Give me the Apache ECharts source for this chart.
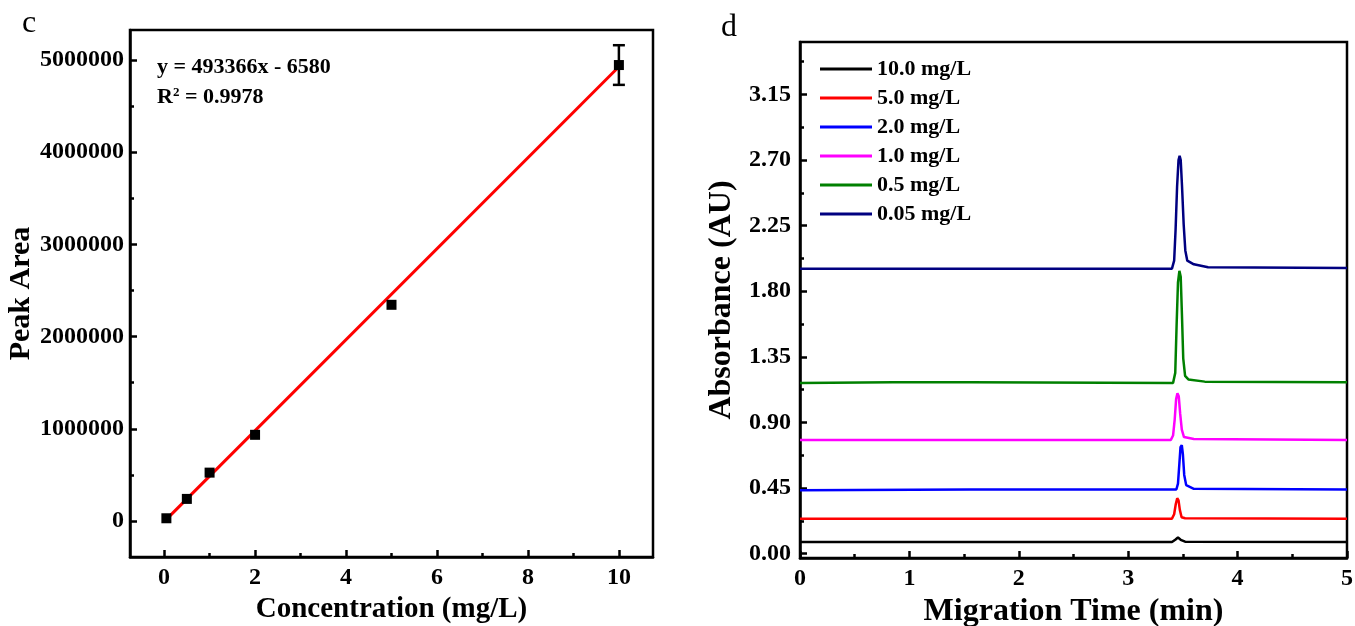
<!DOCTYPE html>
<html>
<head>
<meta charset="utf-8">
<script src="https://cdn.jsdelivr.net/npm/echarts@6/dist/echarts.min.js"></script>
<style>
html,body{margin:0;padding:0;background:#fff}
#main{width:1355px;height:626px}
</style>
</head>
<body>
<div id="main"></div>
<script>
// panel c : calibration
var concX = [0.05, 0.5, 1, 2, 5, 10];
var peakArea = [30000, 240000, 525000, 935000, 2345000, 4945000];
var areaErr = [[10, 4730000, 5160000]];
var fitLine = [[0.05, 18088], [10, 4927080]];
var cTicksY = [0, 1000000, 2000000, 3000000, 4000000, 5000000];
var cMinorY = [500000, 1500000, 2500000, 3500000, 4500000];
var cTicksX = [0, 2, 4, 6, 8, 10];
var cMinorX = [1, 3, 5, 7, 9];

// panel d : electropherograms
var dNames = ['10.0 mg/L', '5.0 mg/L', '2.0 mg/L', '1.0 mg/L', '0.5 mg/L', '0.05 mg/L'];
var dColors = ['#000000', '#ff0000', '#0000ff', '#ff00ff', '#008000', '#000080'];
var trace10 = [[0,0.08],[3.40,0.08],[3.43,0.095],[3.455,0.11],[3.48,0.095],[3.52,0.082],[5,0.08]];
var trace5 = [[0,0.24],[3.40,0.24],[3.42,0.27],[3.435,0.34],[3.448,0.38],[3.46,0.365],[3.472,0.30],[3.488,0.25],[3.52,0.243],[5,0.24]];
var trace2 = [[0,0.435],[1.55,0.44],[3.44,0.44],[3.455,0.48],[3.468,0.62],[3.478,0.73],[3.49,0.745],[3.50,0.68],[3.512,0.54],[3.53,0.47],[3.6,0.445],[5,0.44]];
var trace1 = [[0,0.78],[3.39,0.78],[3.41,0.81],[3.425,0.92],[3.438,1.06],[3.45,1.10],[3.462,1.08],[3.475,0.96],[3.49,0.85],[3.51,0.80],[3.6,0.787],[5,0.78]];
var trace05 = [[0,1.17],[0.85,1.175],[1.55,1.175],[3.41,1.17],[3.43,1.24],[3.443,1.58],[3.455,1.86],[3.468,1.94],[3.48,1.90],[3.492,1.62],[3.503,1.34],[3.52,1.22],[3.55,1.195],[3.7,1.18],[5,1.175]];
var trace005 = [[0,1.955],[3.40,1.955],[3.42,2.01],[3.433,2.22],[3.447,2.52],[3.46,2.70],[3.47,2.73],[3.48,2.70],[3.492,2.52],[3.507,2.26],[3.522,2.08],[3.54,2.01],[3.6,1.985],[3.73,1.965],[5,1.96]];
var dTicksY = [0, 0.45, 0.9, 1.35, 1.8, 2.25, 2.7, 3.15];
var dMinorY = [0.225, 0.675, 1.125, 1.575, 2.025, 2.475, 2.925, 3.375];

var FONT = "'Liberation Serif','Times New Roman',serif";
var chart = echarts.init(document.getElementById('main'));

function lbl(size){
    return {fontFamily:FONT,fontWeight:'bold',fontSize:size,color:'#000'};
}
var axLine = {show:true,onZero:false,lineStyle:{color:'#000',width:2.5}};
var noLine = {show:false,onZero:false};
var tickSt = {width:2.5,color:'#000'};

var traces = [trace10, trace5, trace2, trace1, trace05, trace005];
var dSeries = traces.map(function(t, i){
    return {
        type:'line', name:dNames[i], xAxisIndex:2, yAxisIndex:2,
        data:t, symbol:'none', showSymbol:false, smooth:false,
        lineStyle:{color:dColors[i],width:2.5}, itemStyle:{color:dColors[i]},
        z:3
    };
});

var option = {
    animation:false,
    backgroundColor:'#fff',
    grid:[
        {left:130,top:30,width:523,height:527,show:true,borderColor:'#000',borderWidth:2.5,
         outerBoundsMode:'none',containLabel:false},
        {left:800,top:42,width:547,height:516,show:true,borderColor:'#000',borderWidth:2.5,
         outerBoundsMode:'none',containLabel:false}
    ],
    legend:{
        data:dNames, orient:'vertical', left:815, top:53,
        icon:'rect', itemWidth:52, itemHeight:3, itemGap:7,
        textStyle:lbl(22)
    },
    xAxis:[
        {type:'value',gridIndex:0,min:-0.75,max:10.75,position:'bottom',
         name:'Concentration (mg/L)',nameLocation:'middle',nameGap:35,nameTextStyle:lbl(29),
         axisLine:axLine,splitLine:{show:false},
         axisTick:{inside:true,length:7,lineStyle:tickSt,customValues:cTicksX},
         axisLabel:Object.assign({margin:9,customValues:cTicksX},lbl(24))},
        {type:'value',gridIndex:0,min:-0.75,max:10.75,position:'bottom',
         axisLine:noLine,splitLine:{show:false},axisLabel:{show:false},
         axisTick:{inside:true,length:4,lineStyle:tickSt,customValues:cMinorX}},
        {type:'value',gridIndex:1,min:0,max:5,interval:1,position:'bottom',
         name:'Migration Time (min)',nameLocation:'middle',nameGap:32,nameTextStyle:lbl(32),
         axisLine:axLine,splitLine:{show:false},
         axisTick:{inside:true,length:7,lineStyle:tickSt},
         minorTick:{show:true,splitNumber:2,length:4,lineStyle:tickSt},
         axisLabel:Object.assign({margin:9},lbl(24))}
    ],
    yAxis:[
        {type:'value',gridIndex:0,min:-390000,max:5325000,position:'left',
         name:'Peak Area',nameLocation:'middle',nameGap:93,nameTextStyle:lbl(30),
         axisLine:axLine,splitLine:{show:false},
         axisTick:{inside:true,length:7,lineStyle:tickSt,customValues:cTicksY},
         axisLabel:Object.assign({margin:6,customValues:cTicksY,
            formatter:function(v){return String(v);}},lbl(24))},
        {type:'value',gridIndex:0,min:-390000,max:5325000,position:'left',
         axisLine:noLine,splitLine:{show:false},axisLabel:{show:false},
         axisTick:{inside:true,length:4,lineStyle:tickSt,customValues:cMinorY}},
        {type:'value',gridIndex:1,min:-0.03,max:3.51,position:'left',
         name:'Absorbance (AU)',nameLocation:'middle',nameGap:62,nameTextStyle:lbl(32),
         axisLine:axLine,splitLine:{show:false},
         axisTick:{inside:true,length:7,lineStyle:tickSt,customValues:dTicksY},
         axisLabel:Object.assign({margin:9,customValues:dTicksY,
            formatter:function(v){return v.toFixed(2);}},lbl(24))},
        {type:'value',gridIndex:1,min:-0.03,max:3.51,position:'left',
         axisLine:noLine,splitLine:{show:false},axisLabel:{show:false},
         axisTick:{inside:true,length:4,lineStyle:tickSt,customValues:dMinorY}}
    ],
    graphic:[
        {type:'text',left:22,top:8,style:{text:'c',font:'32px '+FONT,fill:'#000'}},
        {type:'text',left:721,top:12,style:{text:'d',font:'32px '+FONT,fill:'#000'}},
        {type:'text',left:157,top:56,style:{text:'y = 493366x - 6580',font:'bold 22px '+FONT,fill:'#000'}},
        {type:'text',left:157,top:86,style:{
            text:'R{s|2} = 0.9978',font:'bold 22px '+FONT,fill:'#000',
            rich:{s:{fontSize:13,fontWeight:'bold',fontFamily:FONT,verticalAlign:'top',padding:[0,0,9,0]}}}}
    ],
    series:[
        {type:'line',xAxisIndex:0,yAxisIndex:0,data:fitLine,symbol:'none',
         lineStyle:{color:'#ff0000',width:3},z:3},
        {type:'custom',xAxisIndex:0,yAxisIndex:0,data:areaErr,z:4,
         renderItem:function(params, api){
            var lo = api.coord([api.value(0), api.value(1)]);
            var hi = api.coord([api.value(0), api.value(2)]);
            var st = {stroke:'#000',lineWidth:2.5};
            return {type:'group',children:[
                {type:'line',shape:{x1:lo[0],y1:lo[1],x2:hi[0],y2:hi[1]},style:st},
                {type:'line',shape:{x1:lo[0]-6,y1:lo[1],x2:lo[0]+6,y2:lo[1]},style:st},
                {type:'line',shape:{x1:hi[0]-6,y1:hi[1],x2:hi[0]+6,y2:hi[1]},style:st}
            ]};
         }},
        {type:'scatter',xAxisIndex:0,yAxisIndex:0,
         data:concX.map(function(x,i){return [x,peakArea[i]];}),
         symbol:'rect',symbolSize:10,itemStyle:{color:'#000',opacity:1},z:5}
    ].concat(dSeries)
};
chart.setOption(option);
</script>
</body>
</html>
